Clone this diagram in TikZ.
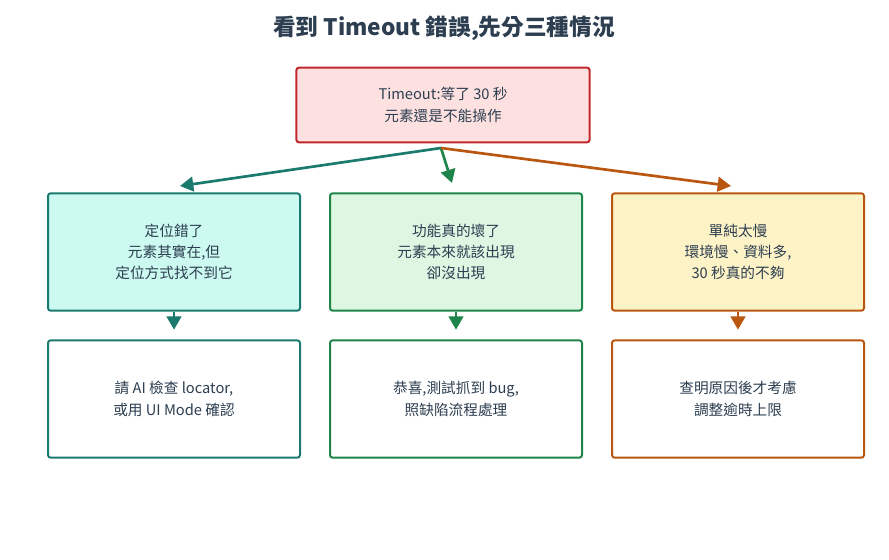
\documentclass[tikz,border=0pt]{standalone}
\usepackage{fontspec}
\setmainfont{Noto Sans CJK TC}
\usetikzlibrary{arrows.meta}
\definecolor{redline}{HTML}{C0282D}
\definecolor{redfill}{HTML}{FDE1E1}
\definecolor{tealline}{HTML}{1A7A6E}
\definecolor{tealfill}{HTML}{CCFAF1}
\definecolor{greenline}{HTML}{1E8449}
\definecolor{greenfill}{HTML}{DDF7E3}
\definecolor{orangeline}{HTML}{B9560F}
\definecolor{orangefill}{HTML}{FEF3C7}
\definecolor{textcol}{HTML}{2C3E50}
\tikzset{
  box/.style={draw=#1, line width=1.5pt, rounded corners=2pt, minimum width=189pt, minimum height=88pt, align=center, font=\fontsize{11}{16}\selectfont, text=textcol},
  link/.style={draw=#1, line width=2pt, -{Triangle[length=10pt,width=11pt]}},
}
\begin{document}
\begin{tikzpicture}[x=0.75pt,y=-0.75pt]
\useasboundingbox (0,0) rectangle (889,560);
\node[font=\bfseries\fontsize{17}{20}\selectfont, text=textcol] (title) at (444,28) {看到 Timeout 錯誤,先分三種情況};
% top
\node[box=redline, fill=redfill, minimum width=220pt, minimum height=56pt] (top) at (443,105) {Timeout:等了 30 秒\\元素還是不能操作};
% middle row
\node[box=tealline, fill=tealfill] (locator) at (174,252) {定位錯了\\元素其實在,但\\定位方式找不到它};
\node[box=greenline, fill=greenfill] (broken) at (456,252) {功能真的壞了\\元素本來就該出現\\卻沒出現};
\node[box=orangeline, fill=orangefill] (slow) at (738,252) {單純太慢\\環境慢、資料多,\\30 秒真的不夠};
% bottom row
\node[box=tealline, fill=white] (askai) at (174,399) {請 AI 檢查 locator,\\或用 UI Mode 確認};
\node[box=greenline, fill=white] (bug) at (456,399) {恭喜,測試抓到 bug,\\照缺陷流程處理};
\node[box=orangeline, fill=white] (cause) at (738,399) {查明原因後才考慮\\調整逾時上限};
% connectors
\coordinate (fork) at (441,148);
\draw[link=tealline] (fork) -- (180,186);
\draw[link=greenline] (fork) -- (452,183);
\draw[link=orangeline] (fork) -- (731,186);
\draw[link=tealline] (locator.south) -- ++(0,18);
\draw[link=greenline] (broken.south) -- ++(0,18);
\draw[link=orangeline] (slow.south) -- ++(0,18);
\end{tikzpicture}
\end{document}
